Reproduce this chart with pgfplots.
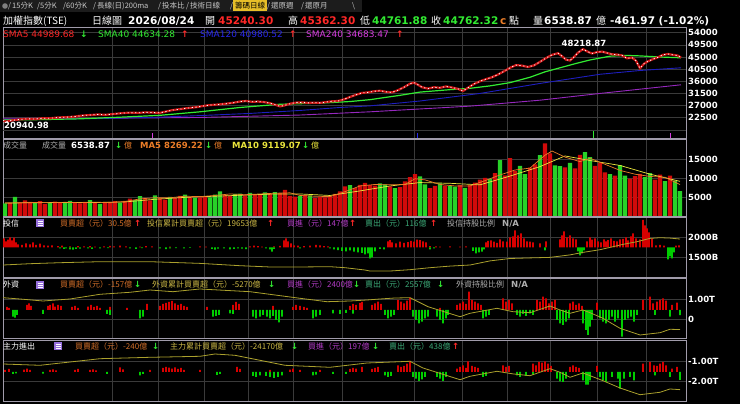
\documentclass[border=0pt]{standalone}
\usepackage{pgfplots}
\pgfplotsset{compat=1.18}
\usepackage{pgfplotstable}
\usepackage{fontspec}
\setmainfont{DejaVu Sans}
\newfontfamily\cjk{Noto Sans CJK TC}
\definecolor{gridc}{RGB}{58,58,58}
\definecolor{framec}{RGB}{160,155,170}
\definecolor{upred}{RGB}{215,0,0}
\definecolor{dngreen}{RGB}{0,205,0}
\definecolor{volred}{RGB}{210,10,10}
\definecolor{volgreen}{RGB}{40,210,40}
\definecolor{pricered}{RGB}{205,20,20}
\definecolor{smared}{RGB}{255,40,40}
\definecolor{smagreen}{RGB}{50,235,50}
\definecolor{smablue}{RGB}{30,30,190}
\definecolor{lblblue}{RGB}{40,40,235}
\definecolor{smapurple}{RGB}{150,40,190}
\definecolor{lblpurple}{RGB}{215,60,225}
\definecolor{maorange}{RGB}{235,125,40}
\definecolor{mayellow}{RGB}{235,230,60}
\definecolor{cumolive}{RGB}{170,160,45}
\definecolor{lorange}{RGB}{210,110,40}
\definecolor{lkhaki}{RGB}{205,185,70}
\definecolor{lpurple}{RGB}{180,60,200}
\definecolor{lteal}{RGB}{60,170,120}
\definecolor{lgrey}{RGB}{175,175,175}
\definecolor{iconc}{RGB}{150,110,220}
\definecolor{tabbg}{RGB}{28,28,28}
\definecolor{tabtxt}{RGB}{200,200,200}
\definecolor{tabhl}{RGB}{230,190,40}

\newcommand\fh{\fontsize{10.5}{12}\selectfont\bfseries}
\newcommand\fc{\cjk\fontsize{10}{12}\selectfont}
\newcommand\fs{\fontsize{9}{11}\selectfont}
\newcommand\fv{\fontsize{8.5}{10}\selectfont\bfseries}
\newcommand\fl{\cjk\fontsize{8}{10}\selectfont}
\newcommand\ft{\cjk\fontsize{7.5}{9}\selectfont}
\newcommand\lab[4]{\node[anchor=base west, inner sep=0pt, text=#3, font=#4] at (#1) {#2};}

\pgfplotsset{
  panel/.style={scale only axis, width=683pt, xmin=3, xmax=686, anchor=north west,
    axis line style={draw=framec, line width=0.7pt},
    xtick={112,158,204,248,293,342,414,462,507,550,597,646}, xticklabels={},
    xmajorgrids, ymajorgrids, grid style={draw=gridc, line width=0.6pt},
    major tick length=0pt, scaled y ticks=false,
    yticklabel pos=right,
    yticklabel style={anchor=west, inner sep=0pt, xshift=2pt, text=white, font=\fontsize{8.5}{10}\selectfont\bfseries}},
  over/.style={scale only axis, width=683pt, xmin=3, xmax=686, anchor=north west, hide axis},
  mybar/.style={ybar, bar width=#1, bar shift=0pt, draw=none},
}

\pgfplotstableread{
x y
3 21500
6 21000
10 21400
14 21600
20 21900
28 22100
35 22000
42 22300
50 22300
58 22600
66 22700
74 22900
82 23300
90 23500
98 23700
106 23600
114 23900
122 24200
130 24400
138 24300
146 24500
154 24400
160 24300
166 24800
172 25300
180 25700
188 26100
196 26400
204 26900
210 27200
218 27400
226 27700
234 28100
240 28500
246 28700
252 28400
258 28500
264 28300
270 27900
276 27200
280 26700
285 27100
290 27700
296 28100
302 28200
308 28000
314 28100
320 28000
326 28300
332 28600
338 28700
344 29300
350 30200
356 31000
362 31700
368 31900
374 32300
380 32500
386 32100
392 31900
398 32700
404 33800
410 35100
414 35500
418 34700
422 33800
428 33300
434 33800
440 33600
446 34100
452 33700
458 33200
463 32400
468 33600
474 35000
480 36000
486 36800
492 37500
498 38500
504 39700
510 41000
516 42000
522 41800
528 41300
534 41900
540 43200
546 44600
552 45800
558 46400
562 45300
566 44000
570 43700
574 45000
578 46600
583 47900
588 46900
592 46300
597 46800
602 47000
607 46500
612 46000
617 45900
622 45600
627 44500
632 44800
636 43600
640 40800
644 42500
648 43400
653 44200
658 44900
663 45800
668 46100
673 45800
678 45500
681 44762
}\price

\begin{document}
\begin{tikzpicture}[x=1pt,y=1pt]
\fill[black] (0pt,0pt) rectangle (740pt,404pt);
% tab strip
\fill[tabbg] (0pt,392pt) rectangle (362pt,404pt);
\fill[tabhl] (233pt,393pt) rectangle (267pt,403.5pt);
\fill[gray] (5pt,398pt) circle (2.8pt);

% ---------------- main price panel
\begin{axis}[panel, at={(3pt,377pt)}, height=111pt, ymin=15000, ymax=56111,
  ytick={22500,27000,31500,36000,40500,45000,49500,54000},
  yticklabels={22500,27000,31500,36000,40500,45000,49500,54000},
  extra y ticks={18000}, extra y tick labels={}, extra y tick style={grid=major}]
\addplot[smapurple, line width=0.9pt] coordinates {(3,22300)(100,22300)(200,22600)(300,23500)(370,24700)(470,26800)(540,29000)(600,31500)(681,34700)};
\addplot[smablue, line width=0.9pt] coordinates {(3,21900)(50,22000)(100,22200)(150,22600)(200,23300)(250,24100)(300,25200)(340,26300)(370,26900)(420,28700)(480,31500)(540,35200)(600,38600)(640,40000)(681,41000)};
\addplot[smagreen, line width=1.2pt] coordinates {(3,21700)(40,21800)(80,22100)(120,22700)(160,23400)(200,24700)(240,26300)(280,27500)(320,27900)(350,28500)(370,29200)(400,30800)(420,32000)(450,32900)(470,33400)(490,34300)(510,35500)(530,37500)(545,39500)(560,41000)(575,42500)(590,43900)(610,45300)(625,45600)(640,45400)(660,45000)(681,44700)};
\addplot[pricered, line width=2.2pt] table {\price};
\addplot[white, line width=0.8pt, dash pattern=on 1.2pt off 2.6pt] table {\price};
\addplot[ycomb, lblpurple, line width=1pt] coordinates {(152,16800)};
\addplot[ycomb, lblblue, line width=1pt] coordinates {(417,16800)};
\addplot[ycomb, smagreen, line width=1pt] coordinates {(593,17500)};
\addplot[ycomb, lblpurple, line width=1pt] coordinates {(670,16800)};
\node[anchor=base, inner sep=0pt, text=white, font=\fv] at (axis cs:584,48703) {48218.87};
\node[anchor=base west, inner sep=0pt, text=white, font=\fv] at (axis cs:4,18330) {20940.98};
\end{axis}

% ---------------- volume panel
\begin{axis}[panel, at={(3pt,265pt)}, height=77pt, ymin=0, ymax=20260,
  ytick={5000,10000,15000}, yticklabels={5000,10000,15000}]
\addplot[mybar=4.2pt, fill=volred] coordinates {(10,3500)(20,3600)(25,4100)(30,3700)(40,3900)(45,3200)(55,3800)(60,3600)(75,3500)(80,3300)(85,3700)(95,3600)(105,3400)(110,3700)(115,3900)(125,4000)(130,4600)(145,4800)(150,4100)(160,4700)(165,4300)(175,4700)(180,5300)(190,5000)(200,4900)(205,5100)(225,5500)(230,5300)(245,5400)(255,5700)(260,5600)(270,5800)(280,6000)(285,6900)(290,5300)(295,5100)(305,5500)(315,4800)(320,5000)(325,4900)(330,5200)(335,5800)(340,6500)(345,7800)(355,7300)(360,8200)(365,8700)(370,8100)(375,8000)(390,7800)(400,7600)(405,9100)(410,10200)(415,11000)(430,7300)(435,7900)(445,8000)(460,8100)(470,8200)(475,8800)(480,9600)(485,10000)(495,11300)(505,10700)(510,15200)(515,11900)(530,12700)(535,13600)(545,19100)(550,16500)(565,12800)(575,12500)(580,16100)(595,13200)(600,14000)(605,11500)(615,10600)(630,9800)(635,10500)(640,11100)(655,9600)(660,10900)(670,10600)};
\addplot[mybar=4.2pt, fill=volgreen] coordinates {(5,3300)(15,5000)(35,3400)(50,3500)(65,3400)(70,4000)(90,4200)(100,3200)(120,3500)(135,4200)(140,5200)(155,5400)(170,5000)(185,5600)(195,4800)(210,4900)(215,5600)(220,6500)(235,5800)(240,5900)(250,6100)(265,6200)(275,6300)(300,5200)(310,5400)(350,8100)(380,8600)(385,8300)(395,7300)(420,10400)(425,8300)(440,8600)(450,7900)(455,7700)(465,7400)(490,9700)(500,14700)(520,13200)(525,11000)(540,16000)(555,13300)(560,13100)(570,14000)(585,16800)(590,15500)(610,11000)(620,13400)(625,10600)(645,10200)(650,11300)(665,9200)(675,9300)(680,6540)};
\addplot[mayellow, line width=0.7pt] coordinates {(5,3400)(35,3500)(65,3550)(95,3550)(125,3700)(155,4400)(185,4900)(215,5200)(245,5500)(275,5800)(300,5800)(330,5400)(360,6600)(390,7900)(420,8800)(450,8600)(480,8200)(510,10500)(540,13000)(565,15800)(590,14600)(620,13300)(650,11000)(680,9120)};
\addplot[maorange, line width=0.7pt] coordinates {(5,3400)(20,3500)(35,3550)(50,3500)(65,3600)(80,3500)(95,3650)(110,3500)(125,3800)(140,4500)(155,4800)(170,4800)(185,5200)(200,5100)(215,5400)(230,5800)(245,5600)(260,5800)(275,6000)(290,6100)(300,5400)(315,5200)(330,5100)(345,6400)(360,7900)(375,8300)(390,8200)(405,8300)(415,9800)(425,9500)(440,8300)(455,7900)(470,7900)(485,9300)(500,10800)(515,12100)(530,12600)(545,16000)(552,17100)(565,15500)(580,14300)(590,15200)(605,13600)(620,12000)(635,11000)(650,10400)(665,10200)(680,8270)};
\end{axis}

% ---------------- panel 3 (投信)
\begin{axis}[panel, at={(3pt,187pt)}, height=60pt, ymin=1017.5, ymax=2517.5,
  ytick={1500,2000}, yticklabels={1500B,2000B}]
\end{axis}
\begin{axis}[over, at={(3pt,187pt)}, height=60pt, ymin=-148.5, ymax=151.5]
\addplot[mybar=1.6pt, fill=upred] coordinates {(4,45)(6,30)(8,38)(10,50)(12,35)(14,48)(16,25)(18,15)(22,12)(26,20)(30,15)(33,25)(36,12)(40,18)(44,10)(48,8)(52,10)(58,6)(62,8)(70,4)(78,6)(84,4)(90,6)(95,3)(104,5)(110,7)(114,4)(120,8)(126,5)(140,3)(146,6)(152,4)(170,3)(200,4)(206,3)(250,5)(254,8)(258,6)(262,3)(274,4)(280,7)(284,35)(286,45)(288,30)(291,20)(294,10)(298,8)(304,6)(310,8)(316,12)(320,9)(324,6)(328,4)(388,30)(390,36)(392,25)(396,20)(400,28)(404,22)(408,26)(411,32)(414,28)(417,38)(420,36)(423,30)(426,25)(430,6)(436,4)(440,3)(450,5)(460,3)(466,4)(486,25)(488,32)(491,35)(494,28)(497,22)(500,40)(503,30)(507,28)(510,50)(513,55)(515,85)(518,60)(521,70)(524,45)(527,30)(530,28)(533,25)(540,20)(546,30)(560,40)(562,60)(564,80)(567,50)(570,60)(573,45)(576,40)(587,30)(590,50)(592,38)(595,45)(598,30)(601,25)(604,40)(606,30)(608,36)(611,45)(614,32)(617,30)(620,40)(623,42)(626,50)(628,35)(631,55)(633,70)(636,45)(640,40)(643,137)(645,110)(647,95)(649,75)(652,45)(656,10)(660,12)(664,8)(676,8)(679,10)};
\addplot[mybar=1.6pt, fill=dngreen] coordinates {(60,-5)(64,-8)(66,-6)(70,-10)(73,-12)(76,-8)(80,-7)(88,-5)(92,-8)(100,-6)(108,-4)(130,-5)(136,-8)(142,-4)(160,-6)(166,-9)(170,-5)(176,-4)(184,-6)(190,-3)(212,-8)(215,-12)(218,-7)(224,-6)(230,-10)(234,-8)(238,-5)(242,-7)(246,-9)(266,-6)(270,-10)(272,-22)(274,-8)(300,-5)(330,-6)(334,-10)(338,-14)(342,-18)(346,-20)(350,-16)(354,-22)(358,-25)(362,-28)(365,-35)(368,-30)(370,-55)(372,-50)(375,-20)(380,-8)(384,-10)(430,-10)(434,-5)(473,-18)(476,-30)(479,-25)(482,-22)(484,-10)(545,-15)(578,-20)(580,-40)(582,-30)(584,-15)(668,-60)(670,-45)(672,-55)(674,-25)};
\end{axis}
\begin{axis}[over, at={(3pt,187pt)}, height=60pt, ymin=1017.5, ymax=2517.5]
\addplot[cumolive, line width=0.8pt] coordinates {(3,1317)(30,1350)(60,1375)(100,1400)(150,1400)(180,1375)(200,1358)(240,1300)(270,1268)(300,1268)(330,1275)(345,1250)(365,1192)(370,1167)(390,1167)(410,1200)(430,1250)(450,1290)(470,1317)(490,1420)(510,1480)(530,1495)(550,1508)(570,1570)(583,1633)(600,1700)(623,1833)(637,1900)(650,1983)(660,2000)(670,1990)(680,1967)};
\end{axis}

% ---------------- panel 4 (外資)
\begin{axis}[panel, at={(3pt,126pt)}, height=60pt, ymin=-0.95, ymax=2.05,
  ytick={0,1}, yticklabels={0,1.00T}]
\end{axis}
\begin{axis}[over, at={(3pt,126pt)}, height=60pt, ymin=-840, ymax=960]
\addplot[mybar=1.6pt, fill=upred] coordinates {(7,90)(9,60)(27,150)(29,200)(31,120)(48,120)(50,150)(53,200)(55,100)(58,150)(61,120)(72,90)(75,120)(78,60)(88,100)(91,150)(94,90)(97,120)(100,60)(110,90)(127,60)(147,180)(160,120)(163,180)(166,210)(169,240)(172,270)(175,200)(178,150)(181,180)(184,120)(187,90)(207,90)(233,150)(236,240)(239,180)(273,120)(293,90)(296,150)(300,120)(304,90)(307,60)(350,120)(353,180)(356,150)(360,210)(362,240)(372,150)(375,200)(378,250)(381,180)(398,300)(401,250)(404,200)(407,280)(410,370)(440,60)(457,150)(460,200)(463,250)(466,180)(469,550)(472,300)(475,250)(478,200)(481,150)(503,350)(506,250)(509,300)(512,200)(537,300)(540,250)(543,400)(546,350)(549,200)(552,250)(555,300)(570,200)(573,250)(576,150)(579,200)(582,120)(597,220)(643,300)(650,400)(653,200)(657,250)(660,300)(663,350)(666,280)(672,150)(677,220)};
\addplot[mybar=1.6pt, fill=dngreen] coordinates {(13,-200)(15,-230)(17,-150)(43,-120)(107,-120)(110,-150)(140,-250)(143,-200)(213,-200)(216,-180)(219,-150)(230,-100)(233,-120)(253,-200)(256,-250)(260,-200)(263,-150)(267,-200)(270,-250)(273,-180)(276,-300)(279,-370)(282,-200)(313,-250)(316,-200)(320,-150)(333,-100)(340,-120)(346,-90)(353,-110)(385,-150)(388,-250)(391,-200)(394,-150)(413,-200)(416,-300)(419,-400)(422,-350)(425,-250)(428,-200)(437,-200)(440,-300)(443,-400)(446,-250)(448,-150)(483,-250)(486,-200)(489,-150)(517,-150)(520,-200)(523,-120)(526,-180)(530,-100)(533,-150)(557,-300)(560,-400)(563,-450)(566,-350)(569,-250)(583,-400)(586,-600)(588,-750)(590,-500)(592,-300)(600,-250)(603,-350)(606,-400)(609,-300)(612,-200)(615,-350)(618,-250)(622,-800)(625,-300)(628,-250)(631,-200)(634,-350)(637,-150)(655,-150)(670,-200)(680,-157)};
\end{axis}
\begin{axis}[over, at={(3pt,126pt)}, height=60pt, ymin=-0.95, ymax=2.05]
\addplot[cumolive, line width=0.8pt] coordinates {(3,1.065)(20,1.0)(43,0.9)(70,1.0)(100,1.235)(130,1.335)(150,1.45)(173,1.365)(200,1.5)(250,1.365)(300,1.035)(327,0.865)(350,0.9)(367,0.95)(380,1.0)(395,1.05)(410,1.065)(428,0.615)(445,0.35)(460,0.115)(470,0.285)(497,0.535)(513,0.365)(530,0.315)(550,0.65)(560,0.45)(570,0.285)(583,0.45)(590,0.315)(603,0.035)(620,-0.465)(640,-0.8)(660,-0.685)(670,-0.515)(680,-0.527)};
\end{axis}

% ---------------- panel 5 (主力進出)
\begin{axis}[panel, at={(3pt,64pt)}, height=61pt, ymin=-2.985, ymax=0.065,
  ytick={-2,-1}, yticklabels={-2.00T,-1.00T}]
\end{axis}
\begin{axis}[over, at={(3pt,64pt)}, height=61pt, ymin=-870, ymax=960]
\addplot[mybar=1.6pt, fill=upred] coordinates {(5,60)(9,90)(24,70)(27,100)(30,60)(50,60)(53,80)(56,50)(75,60)(78,90)(90,60)(93,80)(96,50)(120,140)(123,80)(150,60)(163,120)(166,150)(169,130)(172,100)(175,140)(178,90)(181,120)(184,60)(200,60)(237,150)(240,90)(270,60)(290,70)(293,100)(300,60)(320,60)(350,90)(353,120)(356,100)(362,150)(372,90)(375,120)(378,150)(398,200)(401,150)(404,180)(407,250)(410,330)(457,100)(460,150)(463,200)(466,120)(468,320)(472,180)(475,150)(478,120)(503,200)(506,150)(509,180)(533,250)(536,200)(539,300)(542,280)(545,320)(548,250)(551,180)(570,150)(573,200)(576,150)(579,120)(597,180)(643,250)(650,300)(654,200)(657,180)(660,250)(663,300)(666,200)(672,100)(677,150)};
\addplot[mybar=1.6pt, fill=dngreen] coordinates {(13,-60)(16,-40)(43,-50)(107,-60)(140,-100)(143,-60)(217,-90)(220,-60)(253,-120)(256,-150)(260,-100)(266,-120)(270,-150)(274,-180)(278,-150)(282,-100)(313,-100)(316,-80)(333,-60)(346,-60)(385,-100)(388,-150)(391,-120)(413,-150)(416,-200)(419,-270)(422,-220)(425,-150)(437,-150)(440,-200)(443,-270)(446,-150)(483,-150)(486,-120)(517,-100)(520,-150)(526,-120)(533,-80)(557,-200)(560,-280)(563,-300)(566,-200)(583,-250)(586,-380)(588,-380)(590,-250)(600,-150)(603,-250)(606,-300)(612,-150)(618,-200)(620,-500)(624,-200)(630,-150)(634,-250)(655,-100)(670,-150)(680,-240)};
\end{axis}
\begin{axis}[over, at={(3pt,64pt)}, height=61pt, ymin=-2.985, ymax=0.065]
\addplot[cumolive, line width=0.8pt] coordinates {(3,-1.135)(40,-1.2)(100,-0.87)(150,-0.8)(200,-0.75)(215,-0.635)(235,-0.7)(285,-1.2)(330,-1.3)(367,-1.085)(410,-1.0)(423,-1.335)(460,-1.92)(470,-1.75)(497,-1.5)(513,-1.63)(530,-1.72)(550,-1.37)(560,-1.55)(570,-1.8)(583,-1.585)(590,-1.72)(603,-1.97)(620,-2.335)(640,-2.67)(660,-2.55)(670,-2.385)(680,-2.417)};
\end{axis}

% ---------------- texts: tab strip
\lab{8pt,395pt}{/}{tabtxt}{\ft}
\lab{12pt,395pt}{15分K}{tabtxt}{\ft}
\lab{37pt,395pt}{/}{tabtxt}{\ft}
\lab{40pt,395pt}{5分K}{tabtxt}{\ft}
\lab{63pt,395pt}{/}{tabtxt}{\ft}
\lab{66pt,395pt}{60分K}{tabtxt}{\ft}
\lab{93pt,395pt}{/}{tabtxt}{\ft}
\lab{97pt,395pt}{長線(日)200ma}{tabtxt}{\ft}
\lab{158pt,395pt}{/}{tabtxt}{\ft}
\lab{162pt,395pt}{投本比}{tabtxt}{\ft}
\lab{186pt,395pt}{/}{tabtxt}{\ft}
\lab{190pt,395pt}{技術日線}{tabtxt}{\ft}
\lab{230pt,395pt}{/}{tabtxt}{\ft}
\lab{235pt,395pt}{籌碼日線}{black}{\ft}
\lab{267pt,395pt}{/}{tabtxt}{\ft}
\lab{271pt,395pt}{還原週}{tabtxt}{\ft}
\lab{301pt,395pt}{/}{tabtxt}{\ft}
\lab{305pt,395pt}{還原月}{tabtxt}{\ft}
\lab{352pt,395pt}{\textbackslash}{tabtxt}{\ft}

% header
\lab{3pt,379.5pt}{加權指數(TSE)}{white}{\fc}
\lab{92pt,379.5pt}{日線圖}{white}{\fc}
\lab{128pt,379.5pt}{2026/08/24}{white}{\fh}
\lab{205pt,379.5pt}{開}{white}{\fc}
\lab{218pt,379.5pt}{45240.30}{smared}{\fh}
\lab{288pt,379.5pt}{高}{white}{\fc}
\lab{300pt,379.5pt}{45362.30}{smared}{\fh}
\lab{360pt,379.5pt}{低}{white}{\fc}
\lab{372pt,379.5pt}{44761.88}{smagreen}{\fh}
\lab{431pt,379.5pt}{收}{white}{\fc}
\lab{443pt,379.5pt}{44762.32}{smagreen}{\fh}
\lab{500pt,379.5pt}{c}{maorange}{\fh}
\lab{509pt,379.5pt}{點}{white}{\fc}
\lab{533pt,379.5pt}{量}{white}{\fc}
\lab{544pt,379.5pt}{6538.87}{white}{\fh}
\lab{596pt,379.5pt}{億}{white}{\fc}
\lab{610pt,379.5pt}{-461.97 (-1.02\%)}{white}{\fh}

% SMA row
\lab{3pt,366pt}{SMA5 44989.68}{smared}{\fs}
\lab{80pt,366pt}{↓}{smagreen}{\fs\bfseries}
\lab{98pt,366pt}{SMA40 44634.28}{smagreen}{\fs}
\lab{181pt,366pt}{↑}{smared}{\fs\bfseries}
\lab{200pt,366pt}{SMA120 40980.52}{lblblue}{\fs}
\lab{289pt,366pt}{↑}{smared}{\fs\bfseries}
\lab{306pt,366pt}{SMA240 34683.47}{lblpurple}{\fs}
\lab{396pt,366pt}{↑}{smared}{\fs\bfseries}

% volume row
\lab{3pt,255pt}{成交量}{lgrey}{\fl}
\lab{42pt,255pt}{成交量}{lgrey}{\fl}
\lab{71pt,255pt}{6538.87}{white}{\fv}
\lab{115pt,255pt}{↓}{smagreen}{\fv}
\lab{124pt,255pt}{億}{maorange}{\fl}
\lab{140pt,255pt}{MA5 8269.22}{maorange}{\fv}
\lab{205pt,255pt}{↓}{smagreen}{\fv}
\lab{214pt,255pt}{億}{maorange}{\fl}
\lab{232pt,255pt}{MA10 9119.07}{mayellow}{\fv}
\lab{302pt,255pt}{↓}{smagreen}{\fv}
\lab{311pt,255pt}{億}{mayellow}{\fl}

% icons
\fill[iconc] (36pt,177pt) rectangle (44pt,185pt);
\draw[white, line width=0.4pt] (37.5pt,179pt) -- (42.5pt,179pt) (37.5pt,181pt) -- (42.5pt,181pt) (37.5pt,183pt) -- (42.5pt,183pt);
\fill[iconc] (36pt,115pt) rectangle (44pt,123pt);
\draw[white, line width=0.4pt] (37.5pt,117pt) -- (42.5pt,117pt) (37.5pt,119pt) -- (42.5pt,119pt) (37.5pt,121pt) -- (42.5pt,121pt);
\fill[iconc] (54pt,54pt) rectangle (62pt,62pt);
\draw[white, line width=0.4pt] (55.5pt,56pt) -- (60.5pt,56pt) (55.5pt,58pt) -- (60.5pt,58pt) (55.5pt,60pt) -- (60.5pt,60pt);

% panel 3 labels
\lab{3pt,177.5pt}{投信}{white}{\fl}
\lab{60pt,177.5pt}{買賣超（元）30.5億}{lorange}{\fl}
\lab{134pt,177.5pt}{↑}{smared}{\fv}
\lab{147pt,177.5pt}{投信累計買賣超（元）19653億}{lkhaki}{\fl}
\lab{267pt,177.5pt}{↑}{smared}{\fv}
\lab{287pt,177.5pt}{買進（元）147億}{lpurple}{\fl}
\lab{349pt,177.5pt}{↑}{smared}{\fv}
\lab{365pt,177.5pt}{賣出（元）116億}{lteal}{\fl}
\lab{430pt,177.5pt}{↑}{smared}{\fv}
\lab{447pt,177.5pt}{投信持股比例}{lgrey}{\fl}
\lab{502pt,177.5pt}{N/A}{lgrey}{\fv}

% panel 4 labels
\lab{3pt,116pt}{外資}{white}{\fl}
\lab{60pt,116pt}{買賣超（元）-157億}{lorange}{\fl}
\lab{134pt,116pt}{↓}{smagreen}{\fv}
\lab{152pt,116pt}{外資累計買賣超（元）-5270億}{lkhaki}{\fl}
\lab{268pt,116pt}{↓}{smagreen}{\fv}
\lab{287pt,116pt}{買進（元）2400億}{lpurple}{\fl}
\lab{353pt,116pt}{↓}{smagreen}{\fv}
\lab{365pt,116pt}{賣出（元）2557億}{lteal}{\fl}
\lab{437pt,116pt}{↓}{smagreen}{\fv}
\lab{456pt,116pt}{外資持股比例}{lgrey}{\fl}
\lab{511pt,116pt}{N/A}{lgrey}{\fv}

% panel 5 labels
\lab{3pt,54.5pt}{主力進出}{white}{\fl}
\lab{75pt,54.5pt}{買賣超（元）-240億}{lorange}{\fl}
\lab{152pt,54.5pt}{↓}{smagreen}{\fv}
\lab{170pt,54.5pt}{主力累計買賣超（元）-24170億}{lkhaki}{\fl}
\lab{291pt,54.5pt}{↓}{smagreen}{\fv}
\lab{308pt,54.5pt}{買進（元）197億}{lpurple}{\fl}
\lab{372pt,54.5pt}{↓}{smagreen}{\fv}
\lab{389pt,54.5pt}{賣出（元）438億}{lteal}{\fl}
\lab{452pt,54.5pt}{↑}{smared}{\fv}

\pgfresetboundingbox
\path (0pt,0pt) rectangle (740pt,404pt);
\end{tikzpicture}
\end{document}
